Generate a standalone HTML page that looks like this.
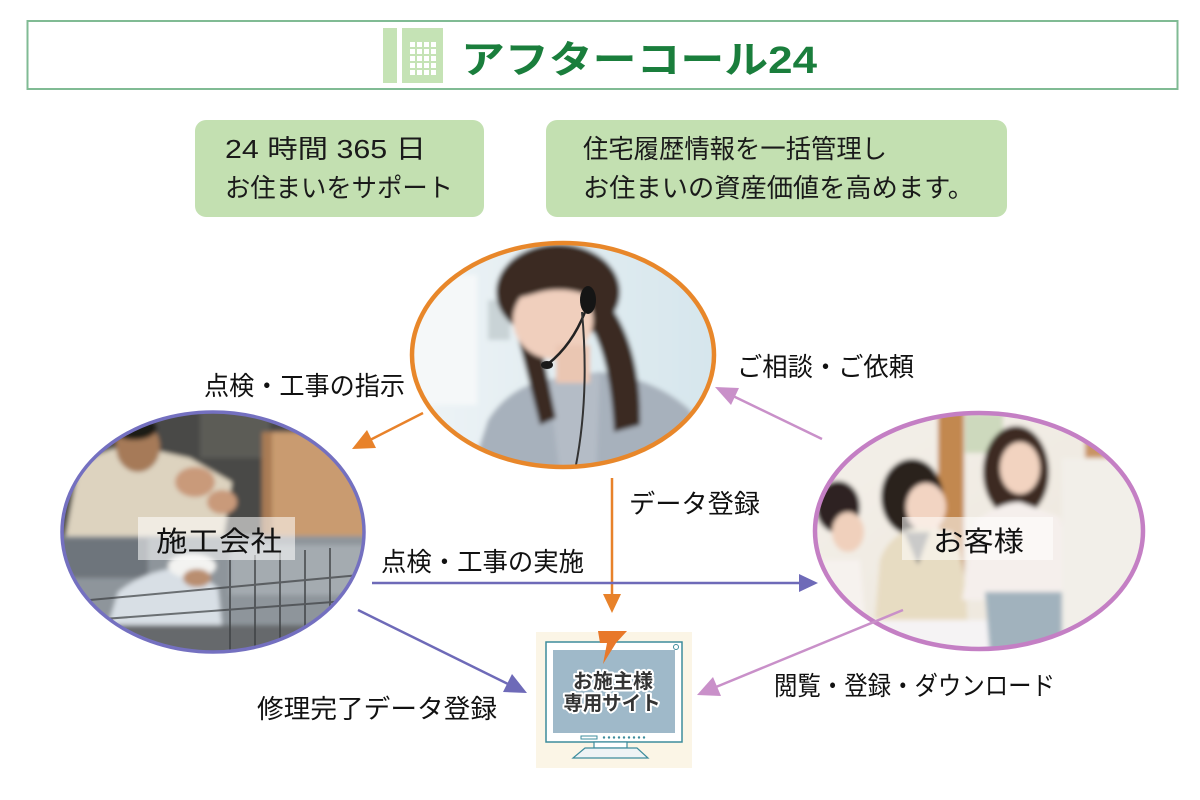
<!DOCTYPE html>
<html><head><meta charset="utf-8">
<style>
html,body{margin:0;padding:0;background:#fff;width:1200px;height:800px;overflow:hidden}
svg{display:block}
text{font-family:"Liberation Sans","Noto Sans CJK JP",sans-serif}
</style></head><body>
<svg width="1200" height="800" viewBox="0 0 1200 800" xmlns="http://www.w3.org/2000/svg">
<defs>
<clipPath id="cOp"><ellipse cx="563" cy="355" rx="151" ry="112"/></clipPath>
<clipPath id="cL"><ellipse cx="213" cy="532" rx="151" ry="120"/></clipPath>
<clipPath id="cR"><ellipse cx="979" cy="531" rx="164" ry="118"/></clipPath>
<filter id="bl" x="-10%" y="-10%" width="120%" height="120%"><feGaussianBlur stdDeviation="2.5"/></filter>
<linearGradient id="gOp" x1="0" y1="0" x2="1" y2="0"><stop offset="0" stop-color="#eef4f6"/><stop offset="1" stop-color="#d5e5ec"/></linearGradient>
<linearGradient id="gR" x1="0" y1="0" x2="1" y2="1"><stop offset="0" stop-color="#f4f0ea"/><stop offset="1" stop-color="#ece5da"/></linearGradient>
</defs>

<!-- Header -->
<rect x="27.5" y="21" width="1150" height="68" fill="#fff" stroke="#80bb94" stroke-width="2"/>
<rect x="383" y="28" width="14" height="55" fill="#c5e3b5"/>
<rect x="402" y="28" width="41" height="55" fill="#c5e3b5"/>
<g fill="#fff">
<rect x="410" y="42" width="5" height="5"/><rect x="417" y="42" width="5" height="5"/><rect x="424" y="42" width="5" height="5"/><rect x="431" y="42" width="5" height="5"/>
<rect x="410" y="49" width="5" height="5"/><rect x="417" y="49" width="5" height="5"/><rect x="424" y="49" width="5" height="5"/><rect x="431" y="49" width="5" height="5"/>
<rect x="410" y="56" width="5" height="5"/><rect x="417" y="56" width="5" height="5"/><rect x="424" y="56" width="5" height="5"/><rect x="431" y="56" width="5" height="5"/>
<rect x="410" y="63" width="5" height="5"/><rect x="417" y="63" width="5" height="5"/><rect x="424" y="63" width="5" height="5"/><rect x="431" y="63" width="5" height="5"/>
<rect x="410" y="70" width="5" height="5"/><rect x="417" y="70" width="5" height="5"/><rect x="424" y="70" width="5" height="5"/><rect x="431" y="70" width="5" height="5"/>
</g>
<text x="461" y="73" font-size="38" font-weight="bold" fill="#1a7e3c" textLength="356" lengthAdjust="spacingAndGlyphs">アフターコール24</text>

<!-- Top boxes -->
<rect x="195" y="120" width="289" height="97" rx="11" fill="#c3e0b1"/>
<rect x="546" y="120" width="461" height="97" rx="11" fill="#c3e0b1"/>
<g font-size="26" fill="#1a1a1a">
<text x="225" y="158" textLength="201" lengthAdjust="spacingAndGlyphs">24 時間 365 日</text>
<text x="225" y="197" textLength="228" lengthAdjust="spacingAndGlyphs">お住まいをサポート</text>
<text x="583" y="158" textLength="304" lengthAdjust="spacingAndGlyphs">住宅履歴情報を一括管理し</text>
<text x="583" y="197" textLength="391" lengthAdjust="spacingAndGlyphs">お住まいの資産価値を高めます。</text>
</g>

<!-- Operator photo -->
<g clip-path="url(#cOp)">
<g filter="url(#bl)">
<rect x="405" y="238" width="320" height="235" fill="url(#gOp)"/>
<rect x="412" y="275" width="65" height="130" fill="#f5f8f9"/>
<rect x="488" y="300" width="22" height="40" fill="#c9d3d6"/>
<path d="M470,475 L488,420 Q508,388 545,380 L600,372 Q655,378 690,410 L725,475 Z" fill="#a7b1bc"/>
<path d="M548,380 L600,374 L596,475 L560,475 Z" fill="#b4bcc6"/>
<ellipse cx="558" cy="292" rx="62" ry="48" fill="#3b2b22"/>
<path d="M592,285 Q642,330 640,425 L614,432 Q610,350 585,318 Z" fill="#3b2b22"/>
<path d="M516,330 L540,425 L556,418 L538,330 Z" fill="#3b2b22"/>
<ellipse cx="553" cy="320" rx="40" ry="39" fill="#f0cfbd"/>
<rect x="556" y="345" width="34" height="38" fill="#eac6b2"/>
<path d="M506,300 Q520,262 560,262 Q600,266 598,300 Q570,285 540,292 Q520,298 506,300 Z" fill="#3b2b22"/>
</g>
<ellipse cx="588" cy="300" rx="8" ry="14" fill="#151515"/>
<path d="M585,312 Q572,345 548,364" stroke="#222" stroke-width="2.5" fill="none"/>
<ellipse cx="547" cy="365" rx="6" ry="4" fill="#1a1a1a"/>
<path d="M582,312 Q590,400 574,475" stroke="#333" stroke-width="2" fill="none"/>
</g>
<ellipse cx="563" cy="355" rx="151" ry="112" fill="none" stroke="#e8872a" stroke-width="4.5"/>

<!-- Left photo -->
<g clip-path="url(#cL)">
<g filter="url(#bl)">
<rect x="58" y="408" width="312" height="135" fill="#4a4946"/>
<rect x="200" y="408" width="70" height="50" fill="#5c5b56"/>
<path d="M64,545 L78,470 Q100,445 140,447 L190,458 L232,482 L222,545 Z" fill="#ddd3bf"/>
<ellipse cx="138" cy="447" rx="22" ry="25" fill="#a67a58"/>
<ellipse cx="134" cy="428" rx="23" ry="12" fill="#1e1a18"/>
<ellipse cx="195" cy="482" rx="20" ry="15" fill="#c99a7a"/>
<ellipse cx="222" cy="502" rx="15" ry="12" fill="#c99a7a"/>
<rect x="262" y="432" width="112" height="104" fill="#c99b70"/>
<rect x="262" y="432" width="10" height="104" fill="#a97b55"/>
<rect x="58" y="536" width="312" height="120" fill="#8e959b"/>
<rect x="58" y="538" width="90" height="40" fill="#6e747b"/>
<rect x="230" y="545" width="140" height="50" fill="#a4abb0"/>
<path d="M102,645 L118,592 Q150,566 192,568 L218,588 L224,645 Z" fill="#d8dfe5"/>
<ellipse cx="192" cy="566" rx="24" ry="12" fill="#f3f3f1"/>
<ellipse cx="197" cy="578" rx="14" ry="9" fill="#b98e70"/>
<rect x="58" y="625" width="312" height="32" fill="#66696c"/>
</g>
<g stroke="#3d3f42" stroke-width="2" opacity="0.7">
<line x1="230" y1="560" x2="230" y2="650"/><line x1="255" y1="555" x2="255" y2="650"/><line x1="280" y1="552" x2="280" y2="650"/>
<line x1="305" y1="550" x2="305" y2="650"/><line x1="330" y1="548" x2="330" y2="640"/>
<line x1="90" y1="600" x2="360" y2="575"/><line x1="90" y1="620" x2="360" y2="600"/>
</g>
<rect x="138" y="517" width="157" height="43" fill="#fff" opacity="0.55"/>
<text x="156" y="551" font-size="28" fill="#111" textLength="126" lengthAdjust="spacingAndGlyphs">施工会社</text>
</g>
<ellipse cx="213" cy="532" rx="151" ry="120" fill="none" stroke="#7470c0" stroke-width="3.5"/>

<!-- Right photo -->
<g clip-path="url(#cR)">
<g filter="url(#bl)">
<rect x="810" y="408" width="340" height="250" fill="url(#gR)"/>
<rect x="965" y="413" width="38" height="40" fill="#cdd9bd"/>
<rect x="938" y="410" width="26" height="200" fill="#c2884f"/>
<rect x="1085" y="430" width="28" height="80" fill="#c99465"/>
<ellipse cx="838" cy="507" rx="22" ry="26" fill="#2e2420"/>
<ellipse cx="848" cy="532" rx="16" ry="20" fill="#f0d0bc"/>
<path d="M818,650 L822,560 L860,560 L868,650 Z" fill="#f6f2ee"/>
<ellipse cx="912" cy="497" rx="31" ry="38" fill="#2a211d"/>
<ellipse cx="926" cy="507" rx="20" ry="24" fill="#f2d4c2"/>
<path d="M872,655 L880,560 Q890,532 920,527 L952,532 Q968,560 968,655 Z" fill="#e7dcc2"/>
<path d="M904,532 L918,565 L930,532 Z" fill="#8a8a88"/>
<path d="M870,620 L1000,620 L990,660 L870,660 Z" fill="#f5f3f4"/>
<ellipse cx="1016" cy="472" rx="33" ry="46" fill="#3c2a20"/>
<ellipse cx="1020" cy="468" rx="20" ry="26" fill="#f2d3c0"/>
<path d="M962,600 L975,522 Q1000,502 1020,502 L1060,517 L1076,600 Z" fill="#f5efec"/>
<path d="M985,592 L1070,592 L1075,655 L990,655 Z" fill="#a1b2bd"/>
<rect x="1062" y="458" width="90" height="200" fill="#f2efe9"/>
</g>
<rect x="902" y="517" width="151" height="43" fill="#fff" opacity="0.55"/>
<text x="933" y="551" font-size="28" fill="#111" textLength="91" lengthAdjust="spacingAndGlyphs">お客様</text>
</g>
<ellipse cx="979" cy="531" rx="164" ry="118" fill="none" stroke="#c47fc4" stroke-width="4.5"/>

<!-- Monitor -->
<rect x="536" y="632" width="156" height="136" fill="#fbf5e6"/>
<rect x="546" y="642" width="136" height="100" fill="#fff" stroke="#3d8c9c" stroke-width="1.5"/>
<rect x="553" y="650" width="122" height="83" fill="#9fb9c9"/>
<circle cx="676" cy="647" r="2.5" fill="#fff" stroke="#3d8c9c" stroke-width="1"/>
<rect x="581" y="736" width="16" height="3" fill="#fff" stroke="#3d8c9c" stroke-width="1"/>
<g fill="#3d8c9c">
<circle cx="604" cy="737.5" r="1.2"/><circle cx="609" cy="737.5" r="1.2"/><circle cx="614" cy="737.5" r="1.2"/><circle cx="619" cy="737.5" r="1.2"/><circle cx="624" cy="737.5" r="1.2"/><circle cx="629" cy="737.5" r="1.2"/><circle cx="634" cy="737.5" r="1.2"/><circle cx="639" cy="737.5" r="1.2"/><circle cx="644" cy="737.5" r="1.2"/>
</g>
<rect x="594" y="742" width="33" height="6" fill="#fff" stroke="#3d8c9c" stroke-width="1.2"/>
<path d="M585,748 L637,748 L648,758 L573,758 Z" fill="#eef3f5" stroke="#3d8c9c" stroke-width="1.2"/>
<g font-size="20" font-weight="bold" text-anchor="middle">
<text x="613" y="688" fill="none" stroke="#fff" stroke-width="4" stroke-linejoin="round" textLength="80" lengthAdjust="spacingAndGlyphs">お施主様</text>
<text x="613" y="688" fill="#333" textLength="80" lengthAdjust="spacingAndGlyphs">お施主様</text>
<text x="612" y="710" fill="none" stroke="#fff" stroke-width="4" stroke-linejoin="round" textLength="97" lengthAdjust="spacingAndGlyphs">専用サイト</text>
<text x="612" y="710" fill="#333" textLength="97" lengthAdjust="spacingAndGlyphs">専用サイト</text>
</g>
<path d="M598,631 L627,631 L616,643 L603,664 L607,643 L600,643 Z" fill="#e8782a"/>

<!-- Connectors -->
<g stroke-width="2.5" fill="none">
<line x1="423" y1="413" x2="370" y2="440" stroke="#e8822a"/>
<line x1="612" y1="478" x2="612" y2="596" stroke="#e8822a"/>
<line x1="822" y1="439" x2="733" y2="396" stroke="#c990c9"/>
<line x1="372" y1="583" x2="802" y2="583" stroke="#6e6ab8"/>
<line x1="358" y1="610" x2="510" y2="685" stroke="#6e6ab8"/>
<line x1="903" y1="610" x2="716" y2="687" stroke="#c990c9"/>
</g>
<polygon points="352,449 367,430 376,448" fill="#e8822a"/>
<polygon points="612,613 603,594 621,594" fill="#e8822a"/>
<polygon points="715,387 739,388 731,405" fill="#c990c9"/>
<polygon points="818,583 799,574 799,592" fill="#6e6ab8"/>
<polygon points="527,693 503,692 512,674" fill="#6e6ab8"/>
<polygon points="697,695 713,677 721,696" fill="#c990c9"/>

<!-- Labels -->
<g font-size="26" fill="#111">
<text x="204" y="395" textLength="201" lengthAdjust="spacingAndGlyphs">点検・工事の指示</text>
<text x="737" y="376" textLength="177" lengthAdjust="spacingAndGlyphs">ご相談・ご依頼</text>
<text x="629" y="513" textLength="131" lengthAdjust="spacingAndGlyphs">データ登録</text>
<text x="381" y="571" textLength="203" lengthAdjust="spacingAndGlyphs">点検・工事の実施</text>
<text x="257" y="718" textLength="240" lengthAdjust="spacingAndGlyphs">修理完了データ登録</text>
<text x="774" y="695" textLength="281" lengthAdjust="spacingAndGlyphs">閲覧・登録・ダウンロード</text>
</g>
</svg>
</body></html>
